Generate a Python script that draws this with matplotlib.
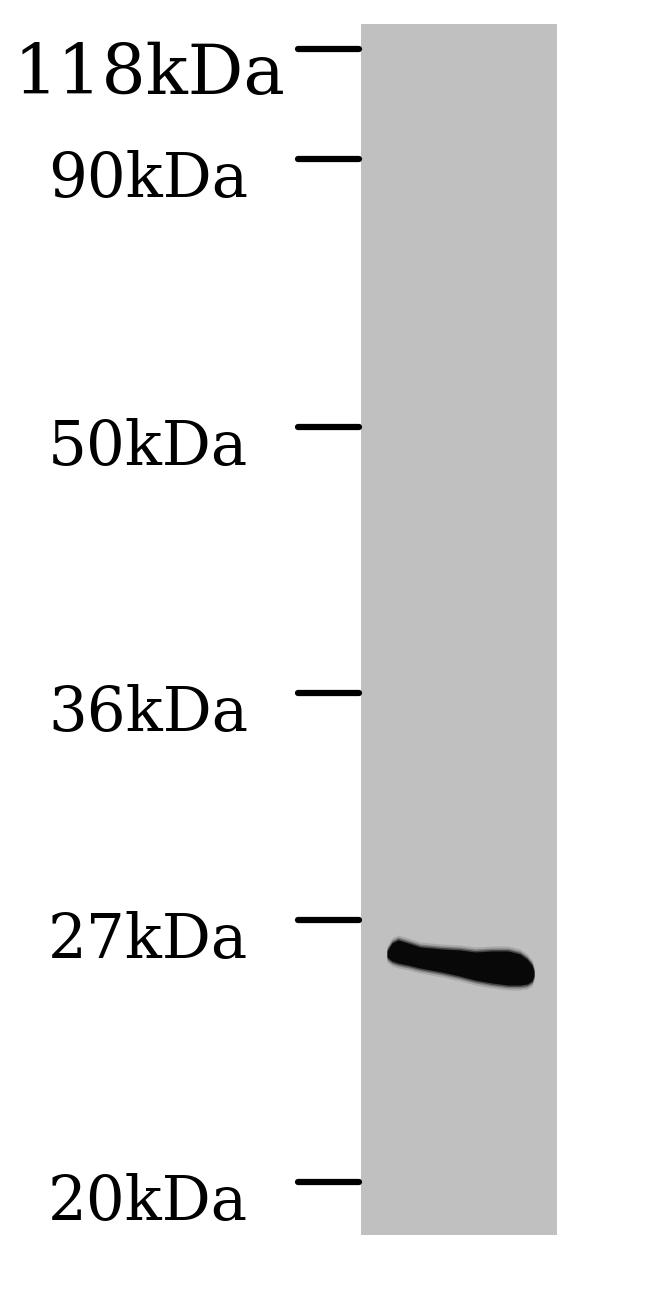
import numpy as np
import matplotlib as mpl
mpl.use('Agg')
from matplotlib import pyplot as plt
from matplotlib.patches import Rectangle

# marker ladder (label, migration position in image px from top)
marker_labels = ['118kDa', '90kDa', '50kDa', '36kDa', '27kDa', '20kDa']
marker_pos = [49, 159, 427, 693, 920, 1182]

# lane extent
lane_x = [361, 557]
lane_y = [24, 1235]

# band outline (x along lane, upper and lower edge)
band_x = [387, 392, 398, 408, 420, 442, 460, 475, 492, 508, 520, 527, 532, 534]
band_top = [951, 943, 940, 943, 947, 949, 950, 952, 951, 951, 954, 959, 965, 971]
band_bot = [957, 961, 963, 965, 968, 972, 976, 980, 983, 985, 985, 984, 981, 976]


def draw_blot():
    fig = plt.figure(figsize=(6.5, 13), dpi=100)
    ax = fig.add_axes([0, 0, 1, 1])
    ax.set_xlim(0, 650)
    ax.set_ylim(1300, 0)
    ax.axis('off')

    ax.add_patch(Rectangle((lane_x[0], lane_y[0]), lane_x[1] - lane_x[0],
                           lane_y[1] - lane_y[0], color='#c0c0c0', lw=0))

    # soft edge then solid core
    bx = np.array(band_x)
    bt = np.array(band_top)
    bb = np.array(band_bot)
    for pad, a in [(5, 0.12), (3, 0.25), (1.5, 0.45)]:
        ax.fill_between(bx, bt - pad, bb + pad, color='black', alpha=a, lw=0)
    ax.fill_between(bx, bt, bb, color='#080808', lw=0)

    ax.hlines(marker_pos, 298, 359, color='black', lw=4.5, capstyle='round')

    for lab, y in zip(marker_labels, marker_pos):
        if lab == '118kDa':
            ax.text(14, y + 26, lab, fontsize=50, family='DejaVu Serif',
                    ha='left', va='center')
        else:
            ax.text(48, y + 21, lab, fontsize=44, family='DejaVu Serif',
                    ha='left', va='center')

    fig.savefig('out.png', dpi=100, facecolor='white')


if __name__ == '__main__':
    draw_blot()
